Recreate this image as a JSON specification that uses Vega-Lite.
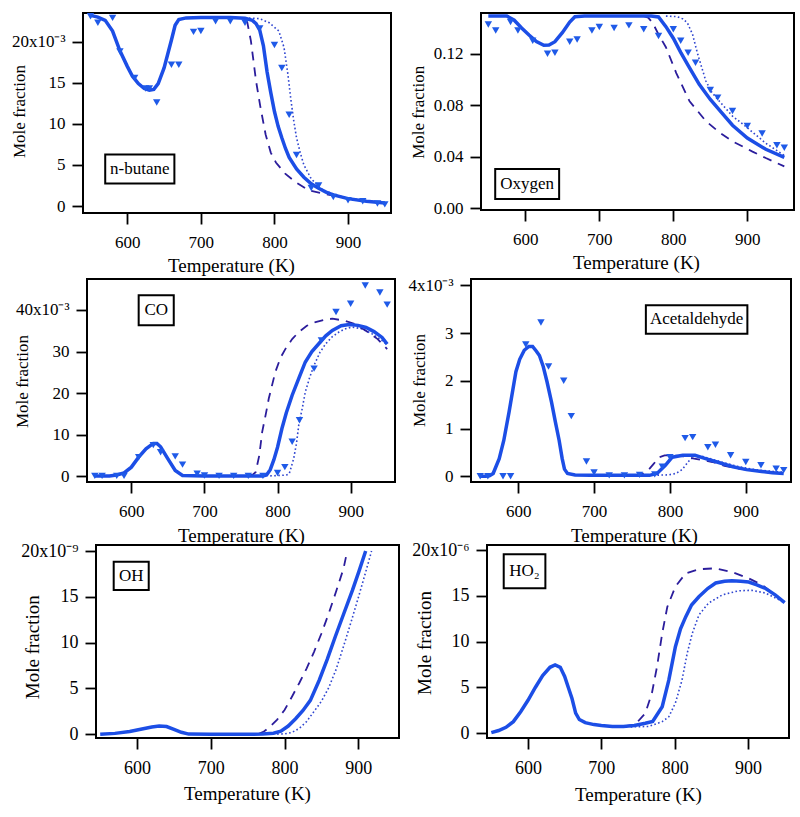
{
 "$schema": "https://vega.github.io/schema/vega-lite/v6.json",
 "padding": {"left": 9, "top": 12, "right": 0, "bottom": 0},
 "background": "white",
 "bounds": "flush",
 "spacing": 266,
 "datasets": {
  "labels": [
   {"species":"n-butane","label":"n-butane"},{"species":"oxygen","label":"Oxygen"},{"species":"CO","label":"CO"},{"species":"acetaldehyde","label":"Acetaldehyde"},{"species":"OH","label":"OH"},{"species":"HO2","label":"HO₂"}
  ],
  "curves": [
   {"species":"n-butane","model":"M0","T":550,"value":23.2e-3},{"species":"n-butane","model":"M0","T":560,"value":23.0e-3},{"species":"n-butane","model":"M0","T":570,"value":22.6e-3},{"species":"n-butane","model":"M0","T":580,"value":21.3e-3},{"species":"n-butane","model":"M0","T":590,"value":18.9e-3},{"species":"n-butane","model":"M0","T":600,"value":17.0e-3},{"species":"n-butane","model":"M0","T":607,"value":15.8e-3},{"species":"n-butane","model":"M0","T":615,"value":14.9e-3},{"species":"n-butane","model":"M0","T":623,"value":14.3e-3},{"species":"n-butane","model":"M0","T":630,"value":14.1e-3},{"species":"n-butane","model":"M0","T":636,"value":14.2e-3},{"species":"n-butane","model":"M0","T":642,"value":14.9e-3},{"species":"n-butane","model":"M0","T":650,"value":16.8e-3},{"species":"n-butane","model":"M0","T":655,"value":18.5e-3},{"species":"n-butane","model":"M0","T":660,"value":20.2e-3},{"species":"n-butane","model":"M0","T":665,"value":22.0e-3},{"species":"n-butane","model":"M0","T":670,"value":22.7e-3},{"species":"n-butane","model":"M0","T":680,"value":22.9e-3},{"species":"n-butane","model":"M0","T":700,"value":22.95e-3},{"species":"n-butane","model":"M0","T":740,"value":22.95e-3},{"species":"n-butane","model":"M0","T":760,"value":22.85e-3},{"species":"n-butane","model":"M0","T":770,"value":22.6e-3},{"species":"n-butane","model":"M0","T":775,"value":22.2e-3},{"species":"n-butane","model":"M0","T":780,"value":21.4e-3},{"species":"n-butane","model":"M0","T":785,"value":19.5e-3},{"species":"n-butane","model":"M0","T":790,"value":16.3e-3},{"species":"n-butane","model":"M0","T":795,"value":13.8e-3},{"species":"n-butane","model":"M0","T":800,"value":11.5e-3},{"species":"n-butane","model":"M0","T":805,"value":9.7e-3},{"species":"n-butane","model":"M0","T":810,"value":8.3e-3},{"species":"n-butane","model":"M0","T":815,"value":7.0e-3},{"species":"n-butane","model":"M0","T":820,"value":5.9e-3},{"species":"n-butane","model":"M0","T":830,"value":4.5e-3},{"species":"n-butane","model":"M0","T":840,"value":3.5e-3},{"species":"n-butane","model":"M0","T":850,"value":2.7e-3},{"species":"n-butane","model":"M0","T":860,"value":2.15e-3},{"species":"n-butane","model":"M0","T":870,"value":1.7e-3},{"species":"n-butane","model":"M0","T":880,"value":1.35e-3},{"species":"n-butane","model":"M0","T":900,"value":0.9e-3},{"species":"n-butane","model":"M0","T":925,"value":0.57e-3},{"species":"n-butane","model":"M0","T":950,"value":0.36e-3},
   {"species":"n-butane","model":"M1","T":740,"value":22.95e-3},{"species":"n-butane","model":"M1","T":755,"value":22.85e-3},{"species":"n-butane","model":"M1","T":763,"value":22.4e-3},{"species":"n-butane","model":"M1","T":768,"value":20.1e-3},{"species":"n-butane","model":"M1","T":775,"value":15.2e-3},{"species":"n-butane","model":"M1","T":781,"value":12.0e-3},{"species":"n-butane","model":"M1","T":788,"value":8.7e-3},{"species":"n-butane","model":"M1","T":795,"value":6.5e-3},{"species":"n-butane","model":"M1","T":802,"value":5.3e-3},{"species":"n-butane","model":"M1","T":815,"value":3.9e-3},{"species":"n-butane","model":"M1","T":829,"value":2.9e-3},{"species":"n-butane","model":"M1","T":847,"value":1.9e-3},{"species":"n-butane","model":"M1","T":870,"value":1.45e-3},{"species":"n-butane","model":"M1","T":900,"value":0.9e-3},{"species":"n-butane","model":"M1","T":925,"value":0.57e-3},{"species":"n-butane","model":"M1","T":950,"value":0.36e-3},
   {"species":"n-butane","model":"M2","T":760,"value":22.9e-3},{"species":"n-butane","model":"M2","T":780,"value":22.8e-3},{"species":"n-butane","model":"M2","T":793,"value":22.3e-3},{"species":"n-butane","model":"M2","T":806,"value":21.3e-3},{"species":"n-butane","model":"M2","T":813,"value":19.3e-3},{"species":"n-butane","model":"M2","T":818,"value":16.2e-3},{"species":"n-butane","model":"M2","T":822,"value":13.2e-3},{"species":"n-butane","model":"M2","T":826,"value":10.5e-3},{"species":"n-butane","model":"M2","T":830,"value":8.3e-3},{"species":"n-butane","model":"M2","T":835,"value":6.5e-3},{"species":"n-butane","model":"M2","T":840,"value":5.0e-3},{"species":"n-butane","model":"M2","T":850,"value":3.3e-3},{"species":"n-butane","model":"M2","T":865,"value":2.0e-3},{"species":"n-butane","model":"M2","T":880,"value":1.45e-3},{"species":"n-butane","model":"M2","T":900,"value":0.95e-3},{"species":"n-butane","model":"M2","T":925,"value":0.6e-3},{"species":"n-butane","model":"M2","T":950,"value":0.4e-3},

   {"species":"oxygen","model":"M0","T":550,"value":0.1492},{"species":"oxygen","model":"M0","T":575,"value":0.1492},{"species":"oxygen","model":"M0","T":585,"value":0.146},{"species":"oxygen","model":"M0","T":595,"value":0.140},{"species":"oxygen","model":"M0","T":605,"value":0.1345},{"species":"oxygen","model":"M0","T":615,"value":0.1295},{"species":"oxygen","model":"M0","T":625,"value":0.1265},{"species":"oxygen","model":"M0","T":632,"value":0.1268},{"species":"oxygen","model":"M0","T":640,"value":0.1293},{"species":"oxygen","model":"M0","T":650,"value":0.1363},{"species":"oxygen","model":"M0","T":660,"value":0.1446},{"species":"oxygen","model":"M0","T":667,"value":0.1487},{"species":"oxygen","model":"M0","T":680,"value":0.1492},{"species":"oxygen","model":"M0","T":770,"value":0.1492},{"species":"oxygen","model":"M0","T":780,"value":0.1485},{"species":"oxygen","model":"M0","T":790,"value":0.141},{"species":"oxygen","model":"M0","T":800,"value":0.132},{"species":"oxygen","model":"M0","T":810,"value":0.121},{"species":"oxygen","model":"M0","T":820,"value":0.111},{"species":"oxygen","model":"M0","T":835,"value":0.0962},{"species":"oxygen","model":"M0","T":850,"value":0.0845},{"species":"oxygen","model":"M0","T":865,"value":0.0745},{"species":"oxygen","model":"M0","T":880,"value":0.0645},{"species":"oxygen","model":"M0","T":900,"value":0.0545},{"species":"oxygen","model":"M0","T":925,"value":0.0458},{"species":"oxygen","model":"M0","T":950,"value":0.0395},
   {"species":"oxygen","model":"M1","T":760,"value":0.1492},{"species":"oxygen","model":"M1","T":766,"value":0.148},{"species":"oxygen","model":"M1","T":772,"value":0.144},{"species":"oxygen","model":"M1","T":780,"value":0.135},{"species":"oxygen","model":"M1","T":790,"value":0.125},{"species":"oxygen","model":"M1","T":804,"value":0.105},{"species":"oxygen","model":"M1","T":822,"value":0.083},{"species":"oxygen","model":"M1","T":844,"value":0.0677},{"species":"oxygen","model":"M1","T":862,"value":0.059},{"species":"oxygen","model":"M1","T":880,"value":0.052},{"species":"oxygen","model":"M1","T":907,"value":0.044},{"species":"oxygen","model":"M1","T":925,"value":0.039},{"species":"oxygen","model":"M1","T":950,"value":0.0325},
   {"species":"oxygen","model":"M2","T":790,"value":0.1492},{"species":"oxygen","model":"M2","T":805,"value":0.1488},{"species":"oxygen","model":"M2","T":813,"value":0.147},{"species":"oxygen","model":"M2","T":819,"value":0.144},{"species":"oxygen","model":"M2","T":826,"value":0.135},{"species":"oxygen","model":"M2","T":833,"value":0.1195},{"species":"oxygen","model":"M2","T":844,"value":0.0988},{"species":"oxygen","model":"M2","T":852,"value":0.09},{"species":"oxygen","model":"M2","T":862,"value":0.0833},{"species":"oxygen","model":"M2","T":880,"value":0.0716},{"species":"oxygen","model":"M2","T":900,"value":0.0625},{"species":"oxygen","model":"M2","T":925,"value":0.0505},{"species":"oxygen","model":"M2","T":950,"value":0.041},

   {"species":"CO","model":"M0","T":550,"value":0.1e-3},{"species":"CO","model":"M0","T":570,"value":0.1e-3},{"species":"CO","model":"M0","T":580,"value":0.3e-3},{"species":"CO","model":"M0","T":590,"value":0.8e-3},{"species":"CO","model":"M0","T":600,"value":2.2e-3},{"species":"CO","model":"M0","T":610,"value":4.6e-3},{"species":"CO","model":"M0","T":620,"value":6.6e-3},{"species":"CO","model":"M0","T":630,"value":7.9e-3},{"species":"CO","model":"M0","T":635,"value":7.9e-3},{"species":"CO","model":"M0","T":640,"value":7.1e-3},{"species":"CO","model":"M0","T":650,"value":4.2e-3},{"species":"CO","model":"M0","T":660,"value":1.4e-3},{"species":"CO","model":"M0","T":670,"value":0.2e-3},{"species":"CO","model":"M0","T":700,"value":0.1e-3},{"species":"CO","model":"M0","T":780,"value":0.1e-3},{"species":"CO","model":"M0","T":785,"value":0.3e-3},{"species":"CO","model":"M0","T":790,"value":1.6e-3},{"species":"CO","model":"M0","T":795,"value":4.0e-3},{"species":"CO","model":"M0","T":800,"value":7.0e-3},{"species":"CO","model":"M0","T":806,"value":11.5e-3},{"species":"CO","model":"M0","T":812,"value":15.3e-3},{"species":"CO","model":"M0","T":820,"value":19.5e-3},{"species":"CO","model":"M0","T":830,"value":24.0e-3},{"species":"CO","model":"M0","T":838,"value":27.5e-3},{"species":"CO","model":"M0","T":847,"value":30.0e-3},{"species":"CO","model":"M0","T":857,"value":32.0e-3},{"species":"CO","model":"M0","T":866,"value":33.8e-3},{"species":"CO","model":"M0","T":875,"value":35.1e-3},{"species":"CO","model":"M0","T":887,"value":36.2e-3},{"species":"CO","model":"M0","T":898,"value":36.5e-3},{"species":"CO","model":"M0","T":910,"value":36.3e-3},{"species":"CO","model":"M0","T":921,"value":35.8e-3},{"species":"CO","model":"M0","T":932,"value":34.8e-3},{"species":"CO","model":"M0","T":943,"value":33.4e-3},{"species":"CO","model":"M0","T":950,"value":31.8e-3},
   {"species":"CO","model":"M1","T":760,"value":0.1e-3},{"species":"CO","model":"M1","T":766,"value":0.4e-3},{"species":"CO","model":"M1","T":770,"value":1.0e-3},{"species":"CO","model":"M1","T":775,"value":5.0e-3},{"species":"CO","model":"M1","T":779,"value":10.7e-3},{"species":"CO","model":"M1","T":784,"value":15.0e-3},{"species":"CO","model":"M1","T":788,"value":18.7e-3},{"species":"CO","model":"M1","T":797,"value":25.1e-3},{"species":"CO","model":"M1","T":804,"value":28.5e-3},{"species":"CO","model":"M1","T":811,"value":30.7e-3},{"species":"CO","model":"M1","T":820,"value":33.0e-3},{"species":"CO","model":"M1","T":829,"value":34.7e-3},{"species":"CO","model":"M1","T":840,"value":36.2e-3},{"species":"CO","model":"M1","T":852,"value":37.1e-3},{"species":"CO","model":"M1","T":865,"value":37.7e-3},{"species":"CO","model":"M1","T":875,"value":37.9e-3},{"species":"CO","model":"M1","T":890,"value":37.5e-3},{"species":"CO","model":"M1","T":905,"value":36.7e-3},{"species":"CO","model":"M1","T":921,"value":35.0e-3},{"species":"CO","model":"M1","T":937,"value":33.0e-3},{"species":"CO","model":"M1","T":950,"value":30.6e-3},
   {"species":"CO","model":"M2","T":790,"value":0.1e-3},{"species":"CO","model":"M2","T":812,"value":0.3e-3},{"species":"CO","model":"M2","T":816,"value":0.6e-3},{"species":"CO","model":"M2","T":822,"value":4.2e-3},{"species":"CO","model":"M2","T":826,"value":8.0e-3},{"species":"CO","model":"M2","T":829,"value":12.3e-3},{"species":"CO","model":"M2","T":834,"value":16.5e-3},{"species":"CO","model":"M2","T":838,"value":20.3e-3},{"species":"CO","model":"M2","T":844,"value":23.8e-3},{"species":"CO","model":"M2","T":850,"value":26.7e-3},{"species":"CO","model":"M2","T":858,"value":29.8e-3},{"species":"CO","model":"M2","T":866,"value":31.9e-3},{"species":"CO","model":"M2","T":875,"value":33.6e-3},{"species":"CO","model":"M2","T":884,"value":34.7e-3},{"species":"CO","model":"M2","T":893,"value":35.5e-3},{"species":"CO","model":"M2","T":902,"value":35.9e-3},{"species":"CO","model":"M2","T":915,"value":35.5e-3},{"species":"CO","model":"M2","T":930,"value":34.2e-3},{"species":"CO","model":"M2","T":945,"value":32.4e-3},{"species":"CO","model":"M2","T":950,"value":31.6e-3},

   {"species":"acetaldehyde","model":"M0","T":550,"value":0.0},{"species":"acetaldehyde","model":"M0","T":557,"value":0.0},{"species":"acetaldehyde","model":"M0","T":562,"value":0.01e-3},{"species":"acetaldehyde","model":"M0","T":567,"value":0.06e-3},{"species":"acetaldehyde","model":"M0","T":575,"value":0.37e-3},{"species":"acetaldehyde","model":"M0","T":581,"value":0.75e-3},{"species":"acetaldehyde","model":"M0","T":588,"value":1.35e-3},{"species":"acetaldehyde","model":"M0","T":597,"value":2.19e-3},{"species":"acetaldehyde","model":"M0","T":602,"value":2.45e-3},{"species":"acetaldehyde","model":"M0","T":608,"value":2.64e-3},{"species":"acetaldehyde","model":"M0","T":614,"value":2.72e-3},{"species":"acetaldehyde","model":"M0","T":619,"value":2.72e-3},{"species":"acetaldehyde","model":"M0","T":624,"value":2.62e-3},{"species":"acetaldehyde","model":"M0","T":628,"value":2.53e-3},{"species":"acetaldehyde","model":"M0","T":633,"value":2.3e-3},{"species":"acetaldehyde","model":"M0","T":638,"value":1.98e-3},{"species":"acetaldehyde","model":"M0","T":644,"value":1.55e-3},{"species":"acetaldehyde","model":"M0","T":649,"value":1.14e-3},{"species":"acetaldehyde","model":"M0","T":654,"value":0.75e-3},{"species":"acetaldehyde","model":"M0","T":658,"value":0.37e-3},{"species":"acetaldehyde","model":"M0","T":661,"value":0.15e-3},{"species":"acetaldehyde","model":"M0","T":665,"value":0.06e-3},{"species":"acetaldehyde","model":"M0","T":675,"value":0.03e-3},{"species":"acetaldehyde","model":"M0","T":695,"value":0.02e-3},{"species":"acetaldehyde","model":"M0","T":773,"value":0.02e-3},{"species":"acetaldehyde","model":"M0","T":783,"value":0.06e-3},{"species":"acetaldehyde","model":"M0","T":794,"value":0.23e-3},{"species":"acetaldehyde","model":"M0","T":803,"value":0.4e-3},{"species":"acetaldehyde","model":"M0","T":817,"value":0.44e-3},{"species":"acetaldehyde","model":"M0","T":833,"value":0.44e-3},{"species":"acetaldehyde","model":"M0","T":847,"value":0.37e-3},{"species":"acetaldehyde","model":"M0","T":862,"value":0.3e-3},{"species":"acetaldehyde","model":"M0","T":883,"value":0.2e-3},{"species":"acetaldehyde","model":"M0","T":901,"value":0.14e-3},{"species":"acetaldehyde","model":"M0","T":921,"value":0.1e-3},{"species":"acetaldehyde","model":"M0","T":935,"value":0.075e-3},{"species":"acetaldehyde","model":"M0","T":950,"value":0.06e-3},
   {"species":"acetaldehyde","model":"M1","T":754,"value":0.02e-3},{"species":"acetaldehyde","model":"M1","T":763,"value":0.04e-3},{"species":"acetaldehyde","model":"M1","T":771,"value":0.12e-3},{"species":"acetaldehyde","model":"M1","T":778,"value":0.25e-3},{"species":"acetaldehyde","model":"M1","T":786,"value":0.4e-3},{"species":"acetaldehyde","model":"M1","T":793,"value":0.44e-3},{"species":"acetaldehyde","model":"M1","T":803,"value":0.44e-3},{"species":"acetaldehyde","model":"M1","T":818,"value":0.42e-3},{"species":"acetaldehyde","model":"M1","T":832,"value":0.37e-3},{"species":"acetaldehyde","model":"M1","T":856,"value":0.3e-3},{"species":"acetaldehyde","model":"M1","T":872,"value":0.22e-3},{"species":"acetaldehyde","model":"M1","T":891,"value":0.16e-3},{"species":"acetaldehyde","model":"M1","T":916,"value":0.11e-3},{"species":"acetaldehyde","model":"M1","T":950,"value":0.065e-3},
   {"species":"acetaldehyde","model":"M2","T":773,"value":0.02e-3},{"species":"acetaldehyde","model":"M2","T":798,"value":0.03e-3},{"species":"acetaldehyde","model":"M2","T":808,"value":0.06e-3},{"species":"acetaldehyde","model":"M2","T":816,"value":0.14e-3},{"species":"acetaldehyde","model":"M2","T":826,"value":0.34e-3},{"species":"acetaldehyde","model":"M2","T":834,"value":0.43e-3},{"species":"acetaldehyde","model":"M2","T":842,"value":0.42e-3},{"species":"acetaldehyde","model":"M2","T":857,"value":0.35e-3},{"species":"acetaldehyde","model":"M2","T":872,"value":0.28e-3},{"species":"acetaldehyde","model":"M2","T":891,"value":0.2e-3},{"species":"acetaldehyde","model":"M2","T":916,"value":0.13e-3},{"species":"acetaldehyde","model":"M2","T":950,"value":0.085e-3},

   {"species":"OH","model":"M0","T":550,"value":0.0},{"species":"OH","model":"M0","T":570,"value":0.1e-9},{"species":"OH","model":"M0","T":590,"value":0.3e-9},{"species":"OH","model":"M0","T":605,"value":0.55e-9},{"species":"OH","model":"M0","T":620,"value":0.8e-9},{"species":"OH","model":"M0","T":630,"value":0.9e-9},{"species":"OH","model":"M0","T":640,"value":0.85e-9},{"species":"OH","model":"M0","T":650,"value":0.55e-9},{"species":"OH","model":"M0","T":660,"value":0.22e-9},{"species":"OH","model":"M0","T":670,"value":0.02e-9},{"species":"OH","model":"M0","T":700,"value":0.0},{"species":"OH","model":"M0","T":770,"value":0.02e-9},{"species":"OH","model":"M0","T":785,"value":0.12e-9},{"species":"OH","model":"M0","T":795,"value":0.35e-9},{"species":"OH","model":"M0","T":805,"value":0.9e-9},{"species":"OH","model":"M0","T":815,"value":1.7e-9},{"species":"OH","model":"M0","T":825,"value":2.6e-9},{"species":"OH","model":"M0","T":835,"value":3.7e-9},{"species":"OH","model":"M0","T":847,"value":5.9e-9},{"species":"OH","model":"M0","T":858,"value":8.2e-9},{"species":"OH","model":"M0","T":869,"value":10.7e-9},{"species":"OH","model":"M0","T":880,"value":13.1e-9},{"species":"OH","model":"M0","T":892,"value":15.7e-9},{"species":"OH","model":"M0","T":901,"value":17.8e-9},{"species":"OH","model":"M0","T":910,"value":20.0e-9},
   {"species":"OH","model":"M1","T":765,"value":0.05e-9},{"species":"OH","model":"M1","T":772,"value":0.3e-9},{"species":"OH","model":"M1","T":780,"value":0.8e-9},{"species":"OH","model":"M1","T":790,"value":1.6e-9},{"species":"OH","model":"M1","T":800,"value":2.65e-9},{"species":"OH","model":"M1","T":810,"value":4.1e-9},{"species":"OH","model":"M1","T":820,"value":5.6e-9},{"species":"OH","model":"M1","T":830,"value":7.2e-9},{"species":"OH","model":"M1","T":840,"value":9.0e-9},{"species":"OH","model":"M1","T":850,"value":11.0e-9},{"species":"OH","model":"M1","T":860,"value":13.2e-9},{"species":"OH","model":"M1","T":870,"value":15.6e-9},{"species":"OH","model":"M1","T":880,"value":18.1e-9},{"species":"OH","model":"M1","T":885,"value":20.0e-9},
   {"species":"OH","model":"M2","T":790,"value":0.02e-9},{"species":"OH","model":"M2","T":800,"value":0.05e-9},{"species":"OH","model":"M2","T":810,"value":0.2e-9},{"species":"OH","model":"M2","T":820,"value":0.65e-9},{"species":"OH","model":"M2","T":830,"value":1.4e-9},{"species":"OH","model":"M2","T":840,"value":2.5e-9},{"species":"OH","model":"M2","T":850,"value":3.6e-9},{"species":"OH","model":"M2","T":860,"value":5.1e-9},{"species":"OH","model":"M2","T":870,"value":7.1e-9},{"species":"OH","model":"M2","T":880,"value":9.6e-9},{"species":"OH","model":"M2","T":890,"value":12.2e-9},{"species":"OH","model":"M2","T":900,"value":14.9e-9},{"species":"OH","model":"M2","T":910,"value":17.7e-9},{"species":"OH","model":"M2","T":918,"value":20.0e-9},

   {"species":"HO2","model":"M0","T":550,"value":0.07e-6},{"species":"HO2","model":"M0","T":560,"value":0.3e-6},{"species":"HO2","model":"M0","T":570,"value":0.65e-6},{"species":"HO2","model":"M0","T":580,"value":1.27e-6},{"species":"HO2","model":"M0","T":590,"value":2.36e-6},{"species":"HO2","model":"M0","T":600,"value":3.6e-6},{"species":"HO2","model":"M0","T":610,"value":5.0e-6},{"species":"HO2","model":"M0","T":620,"value":6.3e-6},{"species":"HO2","model":"M0","T":630,"value":7.2e-6},{"species":"HO2","model":"M0","T":637,"value":7.45e-6},{"species":"HO2","model":"M0","T":644,"value":7.2e-6},{"species":"HO2","model":"M0","T":650,"value":6.2e-6},{"species":"HO2","model":"M0","T":655,"value":5.0e-6},{"species":"HO2","model":"M0","T":660,"value":3.8e-6},{"species":"HO2","model":"M0","T":665,"value":2.2e-6},{"species":"HO2","model":"M0","T":670,"value":1.5e-6},{"species":"HO2","model":"M0","T":678,"value":1.16e-6},{"species":"HO2","model":"M0","T":690,"value":0.95e-6},{"species":"HO2","model":"M0","T":700,"value":0.85e-6},{"species":"HO2","model":"M0","T":715,"value":0.73e-6},{"species":"HO2","model":"M0","T":730,"value":0.75e-6},{"species":"HO2","model":"M0","T":745,"value":0.85e-6},{"species":"HO2","model":"M0","T":760,"value":1.1e-6},{"species":"HO2","model":"M0","T":770,"value":1.3e-6},{"species":"HO2","model":"M0","T":783,"value":2.9e-6},{"species":"HO2","model":"M0","T":792,"value":5.8e-6},{"species":"HO2","model":"M0","T":801,"value":9.45e-6},{"species":"HO2","model":"M0","T":808,"value":11.4e-6},{"species":"HO2","model":"M0","T":815,"value":12.7e-6},{"species":"HO2","model":"M0","T":823,"value":14.0e-6},{"species":"HO2","model":"M0","T":833,"value":14.9e-6},{"species":"HO2","model":"M0","T":845,"value":15.8e-6},{"species":"HO2","model":"M0","T":856,"value":16.4e-6},{"species":"HO2","model":"M0","T":868,"value":16.6e-6},{"species":"HO2","model":"M0","T":878,"value":16.65e-6},{"species":"HO2","model":"M0","T":890,"value":16.6e-6},{"species":"HO2","model":"M0","T":901,"value":16.5e-6},{"species":"HO2","model":"M0","T":912,"value":16.2e-6},{"species":"HO2","model":"M0","T":924,"value":15.8e-6},{"species":"HO2","model":"M0","T":937,"value":15.1e-6},{"species":"HO2","model":"M0","T":950,"value":14.25e-6},
   {"species":"HO2","model":"M1","T":730,"value":0.75e-6},{"species":"HO2","model":"M1","T":742,"value":0.9e-6},{"species":"HO2","model":"M1","T":750,"value":1.3e-6},{"species":"HO2","model":"M1","T":760,"value":2.2e-6},{"species":"HO2","model":"M1","T":769,"value":4.4e-6},{"species":"HO2","model":"M1","T":776,"value":7.3e-6},{"species":"HO2","model":"M1","T":783,"value":10.9e-6},{"species":"HO2","model":"M1","T":790,"value":13.8e-6},{"species":"HO2","model":"M1","T":801,"value":16.0e-6},{"species":"HO2","model":"M1","T":815,"value":17.45e-6},{"species":"HO2","model":"M1","T":833,"value":17.9e-6},{"species":"HO2","model":"M1","T":855,"value":18.0e-6},{"species":"HO2","model":"M1","T":878,"value":17.6e-6},{"species":"HO2","model":"M1","T":901,"value":16.9e-6},{"species":"HO2","model":"M1","T":919,"value":16.2e-6},{"species":"HO2","model":"M1","T":937,"value":15.1e-6},{"species":"HO2","model":"M1","T":950,"value":14.25e-6},
   {"species":"HO2","model":"M2","T":740,"value":0.7e-6},{"species":"HO2","model":"M2","T":765,"value":0.75e-6},{"species":"HO2","model":"M2","T":783,"value":1.27e-6},{"species":"HO2","model":"M2","T":792,"value":1.8e-6},{"species":"HO2","model":"M2","T":801,"value":3.3e-6},{"species":"HO2","model":"M2","T":810,"value":5.8e-6},{"species":"HO2","model":"M2","T":817,"value":8.7e-6},{"species":"HO2","model":"M2","T":824,"value":10.9e-6},{"species":"HO2","model":"M2","T":833,"value":12.9e-6},{"species":"HO2","model":"M2","T":846,"value":14.2e-6},{"species":"HO2","model":"M2","T":865,"value":15.1e-6},{"species":"HO2","model":"M2","T":887,"value":15.55e-6},{"species":"HO2","model":"M2","T":905,"value":15.6e-6},{"species":"HO2","model":"M2","T":924,"value":15.3e-6},{"species":"HO2","model":"M2","T":950,"value":14.25e-6}
  ],
  "exp": [
   {"species":"n-butane","T":550,"value":23.1e-3},{"species":"n-butane","T":560,"value":22.3e-3},{"species":"n-butane","T":580,"value":22.9e-3},{"species":"n-butane","T":590,"value":18.8e-3},{"species":"n-butane","T":610,"value":15.6e-3},{"species":"n-butane","T":625,"value":14.3e-3},{"species":"n-butane","T":630,"value":14.3e-3},{"species":"n-butane","T":640,"value":12.6e-3},{"species":"n-butane","T":660,"value":17.2e-3},{"species":"n-butane","T":670,"value":17.2e-3},{"species":"n-butane","T":690,"value":21.2e-3},{"species":"n-butane","T":700,"value":21.3e-3},{"species":"n-butane","T":720,"value":22.5e-3},{"species":"n-butane","T":740,"value":22.5e-3},{"species":"n-butane","T":760,"value":22.3e-3},{"species":"n-butane","T":780,"value":21.6e-3},{"species":"n-butane","T":800,"value":19.6e-3},{"species":"n-butane","T":810,"value":16.8e-3},{"species":"n-butane","T":820,"value":11.1e-3},{"species":"n-butane","T":830,"value":6.2e-3},{"species":"n-butane","T":850,"value":2.2e-3},{"species":"n-butane","T":860,"value":2.5e-3},{"species":"n-butane","T":880,"value":1.1e-3},{"species":"n-butane","T":900,"value":0.7e-3},{"species":"n-butane","T":920,"value":0.57e-3},{"species":"n-butane","T":940,"value":0.3e-3},{"species":"n-butane","T":950,"value":0.2e-3},
   {"species":"oxygen","T":550,"value":0.1427},{"species":"oxygen","T":560,"value":0.138},{"species":"oxygen","T":580,"value":0.1446},{"species":"oxygen","T":590,"value":0.138},{"species":"oxygen","T":610,"value":0.130},{"species":"oxygen","T":630,"value":0.120},{"species":"oxygen","T":640,"value":0.1208},{"species":"oxygen","T":660,"value":0.1293},{"species":"oxygen","T":670,"value":0.131},{"species":"oxygen","T":690,"value":0.138},{"species":"oxygen","T":700,"value":0.1407},{"species":"oxygen","T":720,"value":0.140},{"species":"oxygen","T":740,"value":0.142},{"species":"oxygen","T":760,"value":0.139},{"species":"oxygen","T":780,"value":0.1337},{"species":"oxygen","T":800,"value":0.139},{"species":"oxygen","T":810,"value":0.130},{"species":"oxygen","T":820,"value":0.1208},{"species":"oxygen","T":830,"value":0.113},{"species":"oxygen","T":850,"value":0.0918},{"species":"oxygen","T":860,"value":0.0859},{"species":"oxygen","T":880,"value":0.0755},{"species":"oxygen","T":900,"value":0.0639},{"species":"oxygen","T":920,"value":0.058},{"species":"oxygen","T":940,"value":0.0489},{"species":"oxygen","T":950,"value":0.047},
   {"species":"CO","T":550,"value":0.1e-3},{"species":"CO","T":560,"value":0.1e-3},{"species":"CO","T":580,"value":0.1e-3},{"species":"CO","T":590,"value":0.1e-3},{"species":"CO","T":610,"value":4.6e-3},{"species":"CO","T":630,"value":7.5e-3},{"species":"CO","T":640,"value":5.8e-3},{"species":"CO","T":660,"value":4.8e-3},{"species":"CO","T":670,"value":2.8e-3},{"species":"CO","T":690,"value":0.6e-3},{"species":"CO","T":700,"value":0.2e-3},{"species":"CO","T":720,"value":0.1e-3},{"species":"CO","T":740,"value":0.1e-3},{"species":"CO","T":760,"value":0.1e-3},{"species":"CO","T":780,"value":0.1e-3},{"species":"CO","T":800,"value":0.8e-3},{"species":"CO","T":810,"value":2.2e-3},{"species":"CO","T":820,"value":8.3e-3},{"species":"CO","T":830,"value":13.5e-3},{"species":"CO","T":850,"value":25.9e-3},{"species":"CO","T":860,"value":32.7e-3},{"species":"CO","T":880,"value":39.5e-3},{"species":"CO","T":900,"value":41.5e-3},{"species":"CO","T":920,"value":45.9e-3},{"species":"CO","T":940,"value":44.2e-3},{"species":"CO","T":950,"value":41.3e-3},
   {"species":"acetaldehyde","T":550,"value":0.0},{"species":"acetaldehyde","T":560,"value":0.0},{"species":"acetaldehyde","T":580,"value":0.0},{"species":"acetaldehyde","T":590,"value":0.0},{"species":"acetaldehyde","T":610,"value":2.76e-3},{"species":"acetaldehyde","T":630,"value":3.22e-3},{"species":"acetaldehyde","T":640,"value":2.3e-3},{"species":"acetaldehyde","T":660,"value":2.0e-3},{"species":"acetaldehyde","T":670,"value":1.26e-3},{"species":"acetaldehyde","T":690,"value":0.31e-3},{"species":"acetaldehyde","T":700,"value":0.08e-3},{"species":"acetaldehyde","T":720,"value":0.02e-3},{"species":"acetaldehyde","T":740,"value":0.02e-3},{"species":"acetaldehyde","T":760,"value":0.03e-3},{"species":"acetaldehyde","T":780,"value":0.04e-3},{"species":"acetaldehyde","T":790,"value":0.2e-3},{"species":"acetaldehyde","T":800,"value":0.4e-3},{"species":"acetaldehyde","T":820,"value":0.8e-3},{"species":"acetaldehyde","T":830,"value":0.82e-3},{"species":"acetaldehyde","T":850,"value":0.61e-3},{"species":"acetaldehyde","T":860,"value":0.66e-3},{"species":"acetaldehyde","T":880,"value":0.44e-3},{"species":"acetaldehyde","T":900,"value":0.3e-3},{"species":"acetaldehyde","T":920,"value":0.23e-3},{"species":"acetaldehyde","T":940,"value":0.16e-3},{"species":"acetaldehyde","T":950,"value":0.13e-3}
  ]
 },
 "vconcat": [
  {"bounds": "flush", "spacing": 0, "hconcat": [
   {"width": 308, "height": 200,
    "layer": [
     {"encoding": {
       "x": {"field": "T", "type": "quantitative", "scale": {"domain": [539.8, 958.4], "nice": false, "zero": false}, "axis": {"values": [600,700,800,900], "title": "Temperature (K)", "titleX": 148, "titleY": 58}},
       "y": {"field": "value", "type": "quantitative", "scale": {"domain": [-0.000852, 0.023494], "nice": false, "zero": false}, "axis": {"values": [0,0.005,0.01,0.015,0.02], "labelExpr": "datum.value > 0.0199 ? '20x10⁻³' : format(datum.value*1000, 'd')", "title": "Mole fraction", "titleX": -59, "titleY": 98}}
      },
      "layer": [
       {"data": {"name": "curves"}, "transform": [{"filter": "datum.species == 'n-butane' && datum.model == 'M2'"}], "mark": {"type": "line", "color": "#2f45d0", "strokeWidth": 1.6, "strokeDash": [1.6, 2.4], "clip": true}, "encoding": {}},
       {"data": {"name": "curves"}, "transform": [{"filter": "datum.species == 'n-butane' && datum.model == 'M1'"}], "mark": {"type": "line", "color": "#2b1d9c", "strokeWidth": 1.8, "strokeDash": [9, 7], "clip": true}, "encoding": {}},
       {"data": {"name": "curves"}, "transform": [{"filter": "datum.species == 'n-butane' && datum.model == 'M0'"}], "mark": {"type": "line", "color": "#1c4ee6", "strokeWidth": 3.5, "clip": true}, "encoding": {}},
       {"data": {"name": "exp"}, "transform": [{"filter": "datum.species == 'n-butane'"}], "mark": {"type": "point", "shape": "triangle-down", "filled": true, "size": 55, "color": "#1f5ae8", "opacity": 1}}
      ]
     },
     {"data": {"name": "labels"}, "transform": [{"filter": "datum.species == 'n-butane'"}], "mark": {"type": "rect", "fill": "white", "stroke": "black", "strokeWidth": 2}, "encoding": {"x": {"datum": 570, "type": "quantitative"}, "x2": {"datum": 664}, "y": {"datum": 0.00275, "type": "quantitative"}, "y2": {"datum": 0.00627}}},
     {"data": {"name": "labels"}, "transform": [{"filter": "datum.species == 'n-butane'"}], "mark": {"type": "text", "font": "Liberation Serif", "fontSize": 17, "color": "black", "align": "center", "baseline": "middle"}, "encoding": {"text": {"field": "label"}, "x": {"datum": 617, "type": "quantitative"}, "y": {"datum": 0.0045, "type": "quantitative"}}}
    ]
   },
   {"width": 90, "height": 200, "data": {"values": []}, "mark": "point", "view": {"stroke": null}},
   {"width": 313, "height": 197,
    "layer": [
     {"encoding": {
       "x": {"field": "T", "type": "quantitative", "scale": {"domain": [540.1, 963.1], "nice": false, "zero": false}, "axis": {"values": [600,700,800,900], "title": "Temperature (K)", "titleX": 155, "titleY": 58}},
       "y": {"field": "value", "type": "quantitative", "scale": {"domain": [-0.00132, 0.15159], "nice": false, "zero": false}, "axis": {"values": [0,0.02,0.04,0.06,0.08,0.1,0.12,0.14], "labelExpr": "round(datum.value*100) % 4 == 0 ? format(datum.value, '.2f') : ''", "tickSize": {"condition": {"test": "round(datum.value*100) % 4 != 0", "value": 6}, "value": 11}, "title": "Mole fraction", "titleX": -57.7, "titleY": 98.8}}
      },
      "layer": [
       {"data": {"name": "curves"}, "transform": [{"filter": "datum.species == 'oxygen' && datum.model == 'M2'"}], "mark": {"type": "line", "color": "#2f45d0", "strokeWidth": 1.6, "strokeDash": [1.6, 2.4], "clip": true}, "encoding": {}},
       {"data": {"name": "curves"}, "transform": [{"filter": "datum.species == 'oxygen' && datum.model == 'M1'"}], "mark": {"type": "line", "color": "#2b1d9c", "strokeWidth": 1.8, "strokeDash": [9, 7], "clip": true}, "encoding": {}},
       {"data": {"name": "curves"}, "transform": [{"filter": "datum.species == 'oxygen' && datum.model == 'M0'"}], "mark": {"type": "line", "color": "#1c4ee6", "strokeWidth": 3.5, "clip": true}, "encoding": {}},
       {"data": {"name": "exp"}, "transform": [{"filter": "datum.species == 'oxygen'"}], "mark": {"type": "point", "shape": "triangle-down", "filled": true, "size": 55, "color": "#1f5ae8", "opacity": 1}}
      ]
     },
     {"data": {"name": "labels"}, "transform": [{"filter": "datum.species == 'oxygen'"}], "mark": {"type": "rect", "fill": "white", "stroke": "black", "strokeWidth": 2}, "encoding": {"x": {"datum": 559.3, "type": "quantitative"}, "x2": {"datum": 645.7}, "y": {"datum": 0.0072, "type": "quantitative"}, "y2": {"datum": 0.0305}}},
     {"data": {"name": "labels"}, "transform": [{"filter": "datum.species == 'oxygen'"}], "mark": {"type": "text", "font": "Liberation Serif", "fontSize": 17, "color": "black", "align": "center", "baseline": "middle"}, "encoding": {"text": {"field": "label"}, "x": {"datum": 602.5, "type": "quantitative"}, "y": {"datum": 0.0189, "type": "quantitative"}}}
    ]
   }
  ]},
  {"bounds": "flush", "spacing": 0, "hconcat": [
   {"width": 4, "height": 203, "data": {"values": []}, "mark": "point", "view": {"stroke": null}},
   {"width": 308, "height": 203,
    "layer": [
     {"encoding": {
       "x": {"field": "T", "type": "quantitative", "scale": {"domain": [539.3, 960.7], "nice": false, "zero": false}, "axis": {"values": [600,700,800,900], "title": "Temperature (K)", "titleX": 154, "titleY": 59}},
       "y": {"field": "value", "type": "quantitative", "scale": {"domain": [-0.001371, 0.047456], "nice": false, "zero": false}, "axis": {"values": [0,0.01,0.02,0.03,0.04], "labelExpr": "datum.value > 0.0399 ? '40x10⁻³' : format(datum.value*1000, 'd')", "title": "Mole fraction", "titleX": -60, "titleY": 102}}
      },
      "layer": [
       {"data": {"name": "curves"}, "transform": [{"filter": "datum.species == 'CO' && datum.model == 'M2'"}], "mark": {"type": "line", "color": "#2f45d0", "strokeWidth": 1.6, "strokeDash": [1.6, 2.4], "clip": true}, "encoding": {}},
       {"data": {"name": "curves"}, "transform": [{"filter": "datum.species == 'CO' && datum.model == 'M1'"}], "mark": {"type": "line", "color": "#2b1d9c", "strokeWidth": 1.8, "strokeDash": [9, 7], "clip": true}, "encoding": {}},
       {"data": {"name": "curves"}, "transform": [{"filter": "datum.species == 'CO' && datum.model == 'M0'"}], "mark": {"type": "line", "color": "#1c4ee6", "strokeWidth": 3.5, "clip": true}, "encoding": {}},
       {"data": {"name": "exp"}, "transform": [{"filter": "datum.species == 'CO'"}], "mark": {"type": "point", "shape": "triangle-down", "filled": true, "size": 55, "color": "#1f5ae8", "opacity": 1}}
      ]
     },
     {"data": {"name": "labels"}, "transform": [{"filter": "datum.species == 'CO'"}], "mark": {"type": "rect", "fill": "white", "stroke": "black", "strokeWidth": 2}, "encoding": {"x": {"datum": 610, "type": "quantitative"}, "x2": {"datum": 658}, "y": {"datum": 0.03632, "type": "quantitative"}, "y2": {"datum": 0.04353}}},
     {"data": {"name": "labels"}, "transform": [{"filter": "datum.species == 'CO'"}], "mark": {"type": "text", "font": "Liberation Serif", "fontSize": 17, "color": "black", "align": "center", "baseline": "middle"}, "encoding": {"text": {"field": "label"}, "x": {"datum": 634, "type": "quantitative"}, "y": {"datum": 0.0399, "type": "quantitative"}}}
    ]
   },
   {"width": 76, "height": 203, "data": {"values": []}, "mark": "point", "view": {"stroke": null}},
   {"width": 320, "height": 203,
    "layer": [
     {"encoding": {
       "x": {"field": "T", "type": "quantitative", "scale": {"domain": [537.8, 959.6], "nice": false, "zero": false}, "axis": {"values": [600,700,800,900], "title": "Temperature (K)", "titleX": 163, "titleY": 59}},
       "y": {"field": "value", "type": "quantitative", "scale": {"domain": [-0.000119, 0.004132], "nice": false, "zero": false}, "axis": {"values": [0,0.001,0.002,0.003,0.004], "labelExpr": "datum.value > 0.00399 ? '4x10⁻³' : format(datum.value*1000, 'd')", "title": "Mole fraction", "titleX": -46.7, "titleY": 101}}
      },
      "layer": [
       {"data": {"name": "curves"}, "transform": [{"filter": "datum.species == 'acetaldehyde' && datum.model == 'M2'"}], "mark": {"type": "line", "color": "#2f45d0", "strokeWidth": 1.6, "strokeDash": [1.6, 2.4], "clip": true}, "encoding": {}},
       {"data": {"name": "curves"}, "transform": [{"filter": "datum.species == 'acetaldehyde' && datum.model == 'M1'"}], "mark": {"type": "line", "color": "#2b1d9c", "strokeWidth": 1.8, "strokeDash": [9, 7], "clip": true}, "encoding": {}},
       {"data": {"name": "curves"}, "transform": [{"filter": "datum.species == 'acetaldehyde' && datum.model == 'M0'"}], "mark": {"type": "line", "color": "#1c4ee6", "strokeWidth": 3.5, "clip": true}, "encoding": {}},
       {"data": {"name": "exp"}, "transform": [{"filter": "datum.species == 'acetaldehyde'"}], "mark": {"type": "point", "shape": "triangle-down", "filled": true, "size": 55, "color": "#1f5ae8", "opacity": 1}}
      ]
     },
     {"data": {"name": "labels"}, "transform": [{"filter": "datum.species == 'acetaldehyde'"}], "mark": {"type": "rect", "fill": "white", "stroke": "black", "strokeWidth": 2}, "encoding": {"x": {"datum": 768.3, "type": "quantitative"}, "x2": {"datum": 902.1}, "y": {"datum": 0.002986, "type": "quantitative"}, "y2": {"datum": 0.003581}}},
     {"data": {"name": "labels"}, "transform": [{"filter": "datum.species == 'acetaldehyde'"}], "mark": {"type": "text", "font": "Liberation Serif", "fontSize": 17, "color": "black", "align": "center", "baseline": "middle"}, "encoding": {"text": {"field": "label"}, "x": {"datum": 835.2, "type": "quantitative"}, "y": {"datum": 0.003285, "type": "quantitative"}}}
    ]
   }
  ]},
  {"bounds": "flush", "spacing": 0, "hconcat": [
   {"width": 13, "height": 193, "data": {"values": []}, "mark": "point", "view": {"stroke": null}},
   {"width": 303, "height": 193,
    "layer": [
     {"encoding": {
       "x": {"field": "T", "type": "quantitative", "scale": {"domain": [544.3, 955.2], "nice": false, "zero": false}, "axis": {"values": [600,700,800,900], "labelFontSize": 18, "titleFontSize": 19, "title": "Temperature (K)", "titleX": 151, "titleY": 61}},
       "y": {"field": "value", "type": "quantitative", "scale": {"domain": [-0.000000000404, 0.000000020655], "nice": false, "zero": false}, "axis": {"values": [0,5e-9,10e-9,15e-9,20e-9], "labelFontSize": 18, "titleFontSize": 19, "labelExpr": "datum.value > 19.9e-9 ? '20x10⁻⁹' : format(datum.value*1e9, 'd')", "title": "Mole fraction", "titleX": -57.3, "titleY": 101.7}}
      },
      "layer": [
       {"data": {"name": "curves"}, "transform": [{"filter": "datum.species == 'OH' && datum.model == 'M2'"}], "mark": {"type": "line", "color": "#2f45d0", "strokeWidth": 1.6, "strokeDash": [1.6, 2.4], "clip": true}, "encoding": {}},
       {"data": {"name": "curves"}, "transform": [{"filter": "datum.species == 'OH' && datum.model == 'M1'"}], "mark": {"type": "line", "color": "#2b1d9c", "strokeWidth": 1.8, "strokeDash": [9, 7], "clip": true}, "encoding": {}},
       {"data": {"name": "curves"}, "transform": [{"filter": "datum.species == 'OH' && datum.model == 'M0'"}], "mark": {"type": "line", "color": "#1c4ee6", "strokeWidth": 3.5, "clip": true}, "encoding": {}}
      ]
     },
     {"data": {"name": "labels"}, "transform": [{"filter": "datum.species == 'OH'"}], "mark": {"type": "rect", "fill": "white", "stroke": "black", "strokeWidth": 2}, "encoding": {"x": {"datum": 568.3, "type": "quantitative"}, "x2": {"datum": 615.8}, "y": {"datum": 15.74e-9, "type": "quantitative"}, "y2": {"datum": 18.82e-9}}},
     {"data": {"name": "labels"}, "transform": [{"filter": "datum.species == 'OH'"}], "mark": {"type": "text", "font": "Liberation Serif", "fontSize": 17, "color": "black", "align": "center", "baseline": "middle"}, "encoding": {"text": {"field": "label"}, "x": {"datum": 592, "type": "quantitative"}, "y": {"datum": 17.28e-9, "type": "quantitative"}}}
    ]
   },
   {"width": 88, "height": 193, "data": {"values": []}, "mark": "point", "view": {"stroke": null}},
   {"width": 302, "height": 193,
    "layer": [
     {"encoding": {
       "x": {"field": "T", "type": "quantitative", "scale": {"domain": [544.1, 955.9], "nice": false, "zero": false}, "axis": {"values": [600,700,800,900], "labelFontSize": 18, "titleFontSize": 19, "title": "Temperature (K)", "titleX": 151, "titleY": 62}},
       "y": {"field": "value", "type": "quantitative", "scale": {"domain": [-0.000000513, 0.000020546], "nice": false, "zero": false}, "axis": {"values": [0,5e-6,10e-6,15e-6,20e-6], "labelFontSize": 18, "titleFontSize": 19, "labelExpr": "datum.value > 19.9e-6 ? '20x10⁻⁶' : format(datum.value*1e6, 'd')", "title": "Mole fraction", "titleX": -56.7, "titleY": 97.5}}
      },
      "layer": [
       {"data": {"name": "curves"}, "transform": [{"filter": "datum.species == 'HO2' && datum.model == 'M2'"}], "mark": {"type": "line", "color": "#2f45d0", "strokeWidth": 1.6, "strokeDash": [1.6, 2.4], "clip": true}, "encoding": {}},
       {"data": {"name": "curves"}, "transform": [{"filter": "datum.species == 'HO2' && datum.model == 'M1'"}], "mark": {"type": "line", "color": "#2b1d9c", "strokeWidth": 1.8, "strokeDash": [9, 7], "clip": true}, "encoding": {}},
       {"data": {"name": "curves"}, "transform": [{"filter": "datum.species == 'HO2' && datum.model == 'M0'"}], "mark": {"type": "line", "color": "#1c4ee6", "strokeWidth": 3.5, "clip": true}, "encoding": {}}
      ]
     },
     {"data": {"name": "labels"}, "transform": [{"filter": "datum.species == 'HO2'"}], "mark": {"type": "rect", "fill": "white", "stroke": "black", "strokeWidth": 2}, "encoding": {"x": {"datum": 566.9, "type": "quantitative"}, "x2": {"datum": 623.7}, "y": {"datum": 15.82e-6, "type": "quantitative"}, "y2": {"datum": 19.53e-6}}},
     {"data": {"name": "labels"}, "transform": [{"filter": "datum.species == 'HO2'"}], "mark": {"type": "text", "font": "Liberation Serif", "fontSize": 17, "color": "black", "align": "center", "baseline": "middle"}, "encoding": {"text": {"field": "label"}, "x": {"datum": 595.2, "type": "quantitative"}, "y": {"datum": 17.67e-6, "type": "quantitative"}}}
    ]
   }
  ]}
 ],
 "config": {
  "font": "Liberation Serif",
  "view": {"stroke": "black", "strokeWidth": 2},
  "axis": {"domain": false, "grid": false, "ticks": true, "tickColor": "black", "tickWidth": 1.8, "tickSize": 11, "labelFont": "Liberation Serif", "labelFontSize": 17, "labelColor": "black", "labelPadding": 7, "labelOverlap": false, "labelFlush": false, "labelBound": false, "titleFont": "Liberation Serif", "titleFontSize": 17, "titleFontWeight": "normal", "titleColor": "black", "titleBaseline": "alphabetic", "titleAlign": "center"},
  "axisX": {"labelPadding": 10, "titleFontSize": 19}
 }
}
